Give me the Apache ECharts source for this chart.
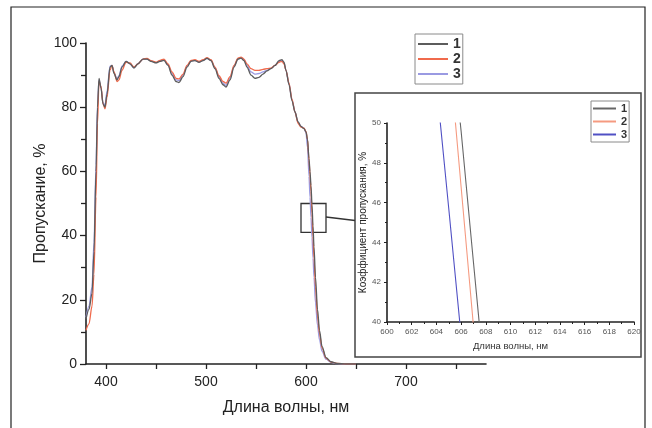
<!DOCTYPE html>
<html>
<head>
<meta charset="utf-8">
<script src="https://cdn.jsdelivr.net/npm/echarts@6/dist/echarts.min.js"></script>
<style>
html,body{margin:0;padding:0;background:#fff;}
#chart{width:652px;height:428px;}
</style>
</head>
<body>
<div id="chart"></div>
<script>
// ---- data ----
var wavelength = [
  380, 383, 386, 388, 390, 391.5, 393, 395, 397, 399,
  401, 404, 406, 408, 411, 413, 416, 420, 424, 428,
  432, 437, 441, 445, 450, 454, 458, 462, 466, 470,
  473, 477, 481, 485, 489, 493, 497, 501, 505, 509,
  513, 517, 520, 524, 528, 532, 535, 538, 541, 545,
  549, 553, 557, 561, 565, 569, 573, 576, 578, 580,
  583, 586, 589, 592, 595, 598, 600, 601.5, 603, 604,
  605, 606, 607, 608, 609.5, 611.5, 613.5, 616, 620, 625,
  631, 640, 650
];
var sample1 = [
  14, 17, 22, 35, 60, 80, 89, 86, 81, 80,
  84, 92.5, 93, 90.5, 88.5, 89.5, 92.5, 94.3, 93.5, 92.2,
  93.5, 95, 95, 94.3, 93.8, 94.3, 94.6, 93, 90, 88,
  87.7, 89.5, 92.5, 94.3, 94.5, 94, 94.5, 95.2, 94.5, 92,
  89, 87, 86.3, 88.5, 92.5, 95, 95.3, 94.5, 92.5, 90,
  89, 89.3, 90.3, 91.3, 92, 93, 94.5, 94.8, 94, 91.5,
  87, 82, 78.5, 75.5, 74, 73.3, 72.3, 70, 64, 60,
  55.5, 49.6, 43, 36.5, 27, 17, 10.5, 5.5, 2, 0.7,
  0.2, 0, 0
];
var sample2 = [
  10.5, 12.5, 18, 28, 52, 75, 88, 86.5, 81, 79.5,
  83, 91.5, 93, 91, 88, 88.5, 91.5, 94, 93.8, 92.5,
  93.5, 95, 95.2, 94.5, 94, 94.6, 95, 93.5, 91, 89,
  88.8, 90.3, 93, 94.6, 94.8, 94.3, 94.8, 95.4, 94.8, 92.5,
  89.8, 88, 87.5, 89.5, 93, 95.3, 95.6, 95, 93.5, 92,
  91.5, 91.5, 91.8, 92, 92.2, 93, 94, 94.3, 93.5, 91.5,
  87.5, 82.5, 78.5, 75, 73.8, 73.5, 72.5, 70, 63.5, 59,
  53.8, 46.8, 39.8, 33, 24, 15, 9.5, 5, 1.8, 0.6,
  0.2, 0, 0
];
var sample3 = [
  14.5, 18, 24, 38, 62, 81, 88.5, 86, 81.5, 80.5,
  85, 92.8, 93, 90.8, 88.8, 89.8, 92.8, 94.3, 93.5, 92.3,
  93.6, 95, 95, 94.4, 93.9, 94.4, 94.7, 93.2, 90.5, 88.5,
  88.3, 90, 92.8, 94.4, 94.6, 94.1, 94.6, 95.2, 94.6, 92.3,
  89.5, 87.5, 86.8, 89, 92.8, 95.1, 95.4, 94.8, 93, 91,
  90.3, 90.5, 91, 91.5, 92.1, 93, 94.3, 94.6, 93.8, 91.5,
  87.3, 82.3, 78.5, 75.3, 74, 73.5, 72, 67.5, 58.5, 52,
  45.7, 39.3, 33, 27, 19, 12, 7.5, 4, 1.5, 0.5,
  0.1, 0, 0
];
var seriesNames = ['1', '2', '3'];
var mainXTicks = [400, 450, 500, 550, 600, 650, 700, 750];
var mainXLabels = [400, 500, 600, 700];
var zoomBox = [[595, 50], [620, 41]];
var connectorFrom = [620, 45.8];

var xTitle = 'Длина волны, нм';
var yTitle = 'Пропускание, %';
var insetYTitle = 'Коэффициент пропускания, %';

// ---- build ----
function pairs(vals) { return wavelength.map(function (w, i) { return [w, vals[i]]; }); }
var samples = [sample1, sample2, sample3];
var mainColors = ['#5c5c5c', '#f06a4c', '#9a9ae2'];
var insetColors = ['#666666', '#f59a80', '#5050c4'];
var FONT = 'Liberation Sans, Arial, sans-serif';

var series = [];
[2, 1, 0].forEach(function (k) {
  series.push({
    name: seriesNames[k], type: 'line', xAxisIndex: 0, yAxisIndex: 0,
    data: pairs(samples[k]), showSymbol: false, symbol: 'none',
    smooth: 0.3, smoothMonotone: 'x',
    lineStyle: { color: mainColors[k], width: 1.3 }, itemStyle: { color: mainColors[k] },
    z: 3, silent: true
  });
});
series[2].markArea = {
  silent: true,
  itemStyle: { color: 'rgba(0,0,0,0)', borderColor: '#333', borderWidth: 1.3 },
  data: [[{ coord: zoomBox[0] }, { coord: zoomBox[1] }]]
};
[2, 1, 0].forEach(function (k) {
  series.push({
    name: 'i' + seriesNames[k], type: 'line', xAxisIndex: 1, yAxisIndex: 1,
    data: pairs(samples[k]), showSymbol: false, symbol: 'none', clip: true,
    lineStyle: { color: insetColors[k], width: 1.1 }, itemStyle: { color: insetColors[k] },
    z: 3, silent: true
  });
});

var chart = echarts.init(document.getElementById('chart'), null, { renderer: 'canvas' });
var option = {
  animation: false,
  backgroundColor: '#fff',
  textStyle: { fontFamily: FONT },
  grid: [
    { left: 86, top: 43, width: 400, height: 321 },
    { left: 387, top: 123, width: 247, height: 199 }
  ],
  legend: [
    {
      data: seriesNames, orient: 'vertical', left: 415, top: 34,
      padding: [3, 2, 3, 2], itemWidth: 30, itemHeight: 14, itemGap: 1,
      borderColor: '#8a8a8a', borderWidth: 1, selectedMode: false,
      itemStyle: { opacity: 0 },
      textStyle: { fontSize: 14, fontWeight: 'bold', color: '#333', fontFamily: FONT }
    },
    {
      data: seriesNames.map(function (n) { return 'i' + n; }),
      formatter: function (n) { return n.slice(1); },
      orient: 'vertical', left: 591, top: 101,
      padding: [2, 2, 2, 1], itemWidth: 23, itemHeight: 11, itemGap: 2,
      borderColor: '#8a8a8a', borderWidth: 1, selectedMode: false,
      itemStyle: { opacity: 0 },
      textStyle: { fontSize: 11, fontWeight: 'bold', color: '#333', fontFamily: FONT }
    }
  ],
  xAxis: [
    {
      type: 'value', gridIndex: 0, min: 380, max: 780,
      name: xTitle, nameLocation: 'middle', nameGap: 36,
      nameTextStyle: { fontSize: 16, color: '#222', fontFamily: FONT },
      axisLine: { show: true, onZero: false, lineStyle: { color: '#222', width: 1.6 } },
      axisTick: { show: true, customValues: mainXTicks, length: 5, lineStyle: { color: '#222', width: 1.3 } },
      axisLabel: { customValues: mainXLabels, fontSize: 14, color: '#222', margin: 11, fontFamily: FONT },
      splitLine: { show: false }
    },
    {
      type: 'value', gridIndex: 1, min: 600, max: 620, interval: 2,
      name: xTitle, nameLocation: 'middle', nameGap: 19,
      nameTextStyle: { fontSize: 9.5, color: '#333', fontFamily: FONT },
      axisLine: { show: true, onZero: false, lineStyle: { color: '#222', width: 1.6 } },
      axisTick: { show: true, length: 3, lineStyle: { color: '#222', width: 1 } },
      minorTick: { show: true, splitNumber: 2, length: 2, lineStyle: { color: '#222', width: 1 } },
      axisLabel: { fontSize: 8, color: '#555', margin: 6, fontFamily: FONT },
      splitLine: { show: false }
    }
  ],
  yAxis: [
    {
      type: 'value', gridIndex: 0, min: 0, max: 100, interval: 20,
      name: yTitle, nameLocation: 'middle', nameGap: 37, nameRotate: 90,
      nameMoveOverlap: false,
      nameTextStyle: { fontSize: 16, color: '#222', fontFamily: FONT },
      axisLine: { show: true, onZero: false, lineStyle: { color: '#222', width: 1.6 } },
      axisTick: { show: true, length: 6, lineStyle: { color: '#222', width: 1.3 } },
      minorTick: { show: true, splitNumber: 2, length: 5, lineStyle: { color: '#222', width: 1.3 } },
      axisLabel: { fontSize: 14, color: '#222', margin: 9, fontFamily: FONT },
      splitLine: { show: false }
    },
    {
      type: 'value', gridIndex: 1, min: 40, max: 50, interval: 2,
      name: insetYTitle, nameLocation: 'middle', nameGap: 17, nameRotate: 90,
      nameTextStyle: { fontSize: 10, color: '#222', fontFamily: FONT },
      axisLine: { show: true, onZero: false, lineStyle: { color: '#222', width: 1.6 } },
      axisTick: { show: true, length: 3, lineStyle: { color: '#222', width: 1 } },
      minorTick: { show: true, splitNumber: 2, length: 2, lineStyle: { color: '#222', width: 1 } },
      axisLabel: { fontSize: 8, color: '#555', margin: 6, fontFamily: FONT },
      splitLine: { show: false }
    }
  ],
  series: series
};
chart.setOption(option);

var insetFrame = { x: 355, y: 93, width: 286, height: 264 };
var p = chart.convertToPixel({ xAxisIndex: 0, yAxisIndex: 0 }, connectorFrom);
chart.setOption({
  graphic: [
    { type: 'rect', shape: { x: 11, y: 7, width: 634, height: 440 }, style: { fill: 'none', stroke: '#222', lineWidth: 1.2 }, silent: true, z: 0 },
    { type: 'rect', shape: insetFrame, style: { fill: 'none', stroke: '#444', lineWidth: 1.5 }, silent: true, z: 10 },
    { type: 'line', shape: { x1: p[0], y1: p[1], x2: insetFrame.x, y2: 220.5 }, style: { stroke: '#333', lineWidth: 1.3 }, silent: true, z: 10 }
  ]
});
</script>
</body>
</html>
